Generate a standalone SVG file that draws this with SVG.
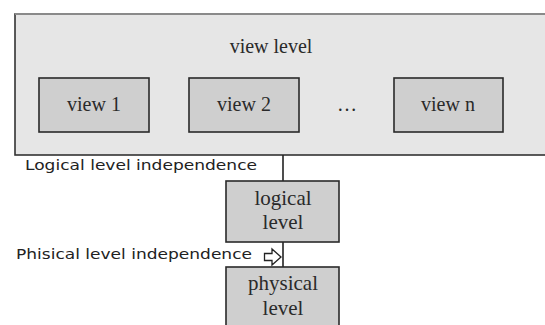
<svg xmlns="http://www.w3.org/2000/svg" width="545" height="325" viewBox="0 0 545 325">
<style>
.box{fill:#cfcfcf;stroke:#2a2a2a;stroke-width:1.6}
.serif{font-family:"Liberation Serif","DejaVu Serif",serif;fill:#2a2a2a;text-anchor:middle}
.sans{font-family:"DejaVu Sans","Open Sans",sans-serif;fill:#222;font-size:14px}
.conn{stroke:#222;stroke-width:1.6;fill:none}
</style>
<rect width="545" height="325" fill="#ffffff"/>
<g id="view-level">
<rect x="15" y="14" width="532" height="141" fill="#e6e6e6" stroke="#333" stroke-width="1.6"/>
<line x1="15" y1="14" x2="545" y2="14" stroke="#8a8a8a" stroke-width="2"/>
<text class="serif" x="271" y="53" font-size="20">view level</text>
</g>
<g id="view1">
<rect class="box" x="39" y="78" width="110" height="54"/>
<text class="serif" x="94" y="111" font-size="20">view 1</text>
</g>
<g id="view2">
<rect class="box" x="189" y="78" width="110" height="54"/>
<text class="serif" x="244" y="111" font-size="20">view 2</text>
</g>
<g id="dots">
<text class="serif" x="347" y="111" font-size="20">…</text>
</g>
<g id="viewn">
<rect class="box" x="394" y="78" width="109" height="54"/>
<text class="serif" x="448" y="111" font-size="20">view n</text>
</g>
<g id="connectors">
<line class="conn" x1="283" y1="155" x2="283" y2="181"/>
<line class="conn" x1="283" y1="242" x2="283" y2="267"/>
<path d="M264.5 253.5 H272 V249 L281 257 L272 265 V260.5 H264.5 Z" fill="#fff" stroke="#222" stroke-width="1.3"/>
</g>
<g id="logical-label">
<text class="sans" x="25" y="170" textLength="232" lengthAdjust="spacingAndGlyphs">Logical level independence</text>
</g>
<g id="logical">
<rect class="box" x="226" y="181" width="113" height="61"/>
<text class="serif" x="283" y="205" font-size="21">logical</text>
<text class="serif" x="283" y="229" font-size="21">level</text>
</g>
<g id="physical-label">
<text class="sans" x="16" y="259" textLength="236" lengthAdjust="spacingAndGlyphs">Phisical level independence</text>
</g>
<g id="physical">
<rect class="box" x="226" y="267" width="113" height="62"/>
<text class="serif" x="283" y="290" font-size="21">physical</text>
<text class="serif" x="283" y="315" font-size="21">level</text>
</g>
</svg>
